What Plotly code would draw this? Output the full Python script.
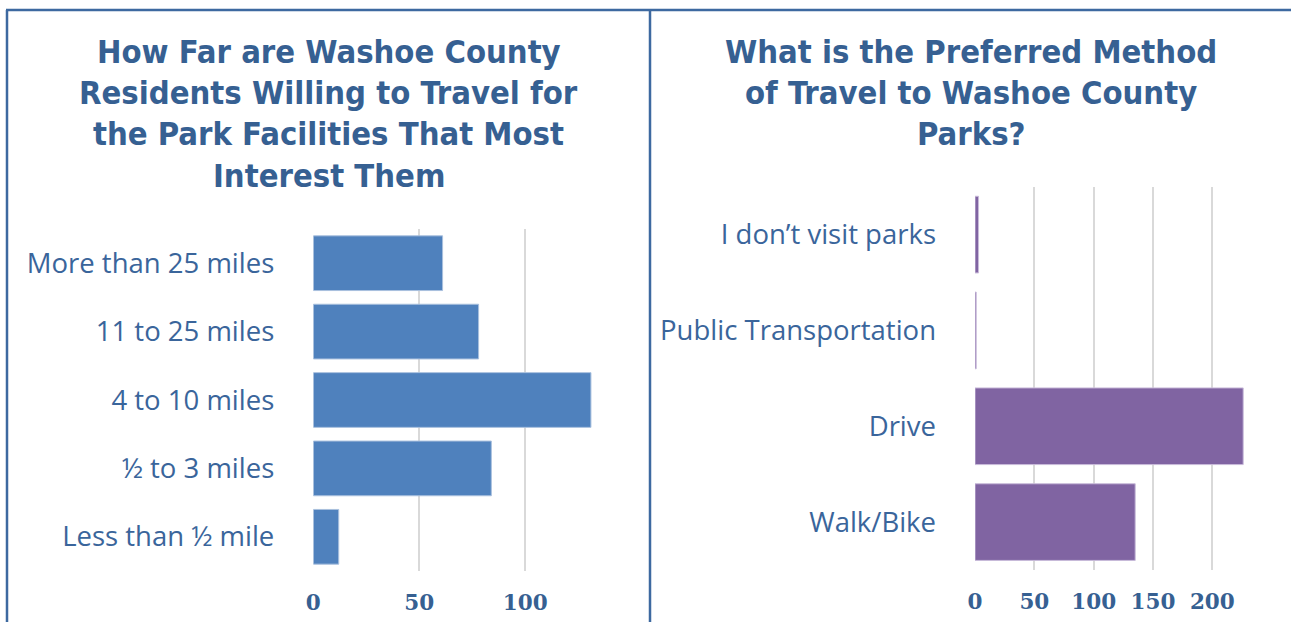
import plotly.graph_objects as go

W, H = 1291, 622

# Data
dist_categories = ["Less than ½ mile", "½ to 3 miles", "4 to 10 miles", "11 to 25 miles", "More than 25 miles"]
dist_values = [12, 84, 131, 78, 61]

method_categories = ["Walk/Bike", "Drive", "Public Transportation", "I don\u2019t visit parks"]
method_values = [135, 226, 1, 3]

left_title_lines = ["How Far are Washoe County", "Residents Willing to Travel for",
                    "the Park Facilities That Most", "Interest Them"]
right_title_lines = ["What is the Preferred Method", "of Travel to Washoe County", "Parks?"]

left_ticks = [0, 50, 100]
right_ticks = [0, 50, 100, 150, 200]

BLUE = "#4F81BD"
PURPLE = "#8064A2"
TXT = "#3A659B"
TITLE = "#366092"
GRID = "#D9D9D9"
BORDER = "#3D69A0"

fig = go.Figure()
fig.add_trace(go.Bar(y=dist_categories, x=dist_values, orientation="h",
                     marker=dict(color=BLUE, line=dict(color="#A9C0DE", width=1)),
                     xaxis="x", yaxis="y", showlegend=False))
fig.add_trace(go.Bar(y=method_categories, x=method_values, orientation="h",
                     marker=dict(color=PURPLE, line=dict(color="#C9BBDA", width=1)),
                     xaxis="x2", yaxis="y2", showlegend=False))

def px_x(p):
    return p / W

def px_y(p):
    return (H - p) / H

tickfont = dict(family="DejaVu Serif", size=21.5, color=TITLE, weight="bold")
catfont = dict(family="Open Sans, Noto Sans, sans-serif", size=27.5, color=TXT)

fig.update_layout(
    width=W, height=H,
    margin=dict(l=0, r=0, t=0, b=0, pad=0, autoexpand=False),
    paper_bgcolor="white", plot_bgcolor="white",
    bargap=0.2,
    xaxis=dict(domain=[px_x(313.3), px_x(610)], range=[0, 140], tickvals=left_ticks,
               showgrid=True, gridcolor=GRID, gridwidth=2, zeroline=False,
               showline=False, ticks="", tickfont=tickfont, ticklabelstandoff=16,
               anchor="y", automargin=False),
    yaxis=dict(domain=[px_y(571), px_y(229)], type="category",
               categoryorder="array", categoryarray=dist_categories,
               showgrid=False, zeroline=False, showline=False, ticks="",
               tickfont=catfont, ticklabelstandoff=38, anchor="x", automargin=False),
    xaxis2=dict(domain=[px_x(975), px_x(1259.8)], range=[0, 240], tickvals=right_ticks,
                showgrid=True, gridcolor=GRID, gridwidth=2, zeroline=False,
                showline=False, ticks="", tickfont=tickfont, ticklabelstandoff=16,
                anchor="y2", automargin=False),
    yaxis2=dict(domain=[px_y(570), px_y(186.7)], type="category",
                categoryorder="array", categoryarray=method_categories,
                showgrid=False, zeroline=False, showline=False, ticks="",
                tickfont=catfont, ticklabelstandoff=38, anchor="x2", automargin=False),
)

titlefont = dict(family="DejaVu Sans Condensed, Liberation Sans Narrow, sans-serif",
                 size=32.5, color=TITLE, weight="bold")
line_centers = [52, 93, 134, 176]
for i, t in enumerate(left_title_lines):
    fig.add_annotation(x=px_x(329), y=px_y(line_centers[i]), xref="paper", yref="paper",
                       text=t, showarrow=False, font=titlefont,
                       xanchor="center", yanchor="middle")
for i, t in enumerate(right_title_lines):
    fig.add_annotation(x=px_x(971), y=px_y(line_centers[i]), xref="paper", yref="paper",
                       text=t, showarrow=False, font=titlefont,
                       xanchor="center", yanchor="middle")

# Panel borders
line = dict(color=BORDER, width=2.5)
fig.add_shape(type="line", xref="paper", yref="paper", x0=px_x(6), x1=1, y0=px_y(10), y1=px_y(10), line=line)
fig.add_shape(type="line", xref="paper", yref="paper", x0=px_x(7), x1=px_x(7), y0=px_y(10), y1=0, line=line)
fig.add_shape(type="line", xref="paper", yref="paper", x0=px_x(650), x1=px_x(650), y0=px_y(10), y1=0, line=line)

fig.write_html("out.html", config={"displayModeBar": False},
               post_script="document.body.style.margin='0';document.body.style.overflow='hidden';")
